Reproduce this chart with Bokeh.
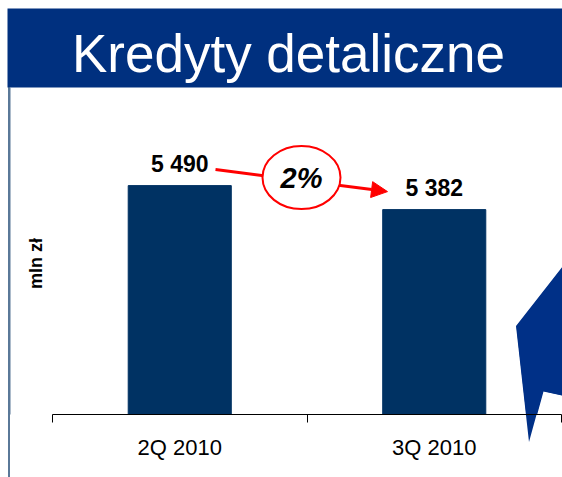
from math import pi
from bokeh.plotting import figure
from bokeh.models import (Range1d, FixedTicker, BoxAnnotation, Label, Arrow,
                          NormalHead, PolyAnnotation)
from bokeh.core.properties import value
from bokeh.embed import file_html
from bokeh.resources import INLINE

# ---- data ----
title_text = "Kredyty detaliczne"
unit_label = "mln zł"
categories = ["2Q 2010", "3Q 2010"]
values = [5490, 5382]

# ---- layout constants ----
W, H = 562, 477
AXIS_H = 63
FRAME_H = H - AXIS_H
PX_X0 = 52          # pixel position of x = 0 (start of axis)
PX_PER_X = 127.25   # pixels per x unit (category = 2 units)
Y_BASE = 4460
Y_PER_PX = 4.5

FONT = "Liberation Sans"
BANNER = "#00307f"
BAR = "#003263"
RED = "#ff0000"
LINE = "#5a7898"
SHAPE = "#003087"

n = len(categories)
x_start = -PX_X0 / PX_PER_X
x_end = x_start + W / PX_PER_X
y_end = Y_BASE + FRAME_H * Y_PER_PX


def dx(px):
    return px / PX_PER_X


def dy(px):
    return px * Y_PER_PX


def fx(px):  # canvas pixel -> data x
    return x_start + px / PX_PER_X


def fy(py):  # canvas pixel (from top) -> data y
    return y_end - py * Y_PER_PX


centers = [2 * i + 1 for i in range(n)]
bounds = [2 * i for i in range(n + 1)]
labels = [f"{v:,}".replace(",", " ") for v in values]
change = (values[1] - values[0]) / values[0]
change_label = f"{abs(round(change * 100))}%"

# decorative slide elements (left rule and blue shape), also shown as page
# background so that they continue below the plot frame
shape_px = [(516, 326), (570, 257), (570, 397), (543, 391), (529, 442)]
pts = " ".join(f"{a},{b}" for a, b in shape_px)
svg_bg = (f"<svg xmlns='http://www.w3.org/2000/svg' width='{W}' height='{H}'>"
          f"<rect x='8' y='87' width='2' height='{H - 87}' fill='{LINE}'/>"
          f"<polygon points='{pts}' fill='{SHAPE}'/></svg>").replace("#", "%23")

p = figure(width=W, height=H, x_range=Range1d(x_start, x_end),
           y_range=Range1d(Y_BASE, y_end), y_axis_location=None,
           output_backend="svg", toolbar_location=None,
           min_border_left=0, min_border_right=0, min_border_top=0,
           min_border_bottom=AXIS_H,
           styles={"background": f'white url("data:image/svg+xml;utf8,{svg_bg}") no-repeat 0 0'})
p.grid.visible = False
p.outline_line_color = None
p.background_fill_color = None
p.border_fill_color = None

# banner + left border line
p.add_layout(BoxAnnotation(left=fx(7), top=fy(8), bottom=fy(87),
                           fill_color=BANNER, fill_alpha=1,
                           line_color=None, level="underlay"))
p.add_layout(BoxAnnotation(left=8, right=10, top=87, bottom=H,
                           left_units="canvas", right_units="canvas",
                           top_units="canvas", bottom_units="canvas",
                           fill_color=LINE, fill_alpha=1,
                           line_color=None, level="underlay"))
p.add_layout(Label(x=fx(288), y=fy(53), text=title_text,
                   text_font=FONT, text_font_size="53px", text_color="white",
                   text_align="center", text_baseline="middle"))

# decorative blue shape at right
p.add_layout(PolyAnnotation(xs=[a for a, b in shape_px],
                            ys=[b for a, b in shape_px],
                            xs_units="canvas", ys_units="canvas",
                            fill_color=SHAPE, fill_alpha=1, line_color=None,
                            level="underlay"))

# bars
p.vbar(x=centers, top=values, bottom=Y_BASE, width=0.81, color=BAR)
p.text(x=centers, y=values, text=labels, text_align="center",
       text_baseline="middle", y_offset=-22, text_font=value(FONT),
       text_font_style="bold", text_font_size="23px", text_color="black")

# change arrow + ellipse
xs0, ys0 = centers[0] + dx(35.75), values[0] + dy(16)
xs1, ys1 = centers[1] - dx(46.75), values[1] + dy(18)
p.add_layout(Arrow(x_start=xs0, y_start=ys0, x_end=xs1, y_end=ys1,
                   line_color=RED, line_width=3, level="underlay",
                   end=NormalHead(size=16, fill_color=RED, line_color=RED)))
xm, ym = (xs0 + xs1) / 2, (ys0 + ys1) / 2 + dy(3)
p.ellipse(x=[xm], y=[ym], width=78, height=63, width_units="screen",
          height_units="screen", fill_color="white", line_color=RED,
          line_width=2)
p.text(x=[xm], y=[ym], text=[change_label], text_align="center",
       text_baseline="middle", text_font=value(FONT),
       text_font_style="bold italic", text_font_size="29px",
       text_color="black")

# unit label
p.add_layout(Label(x=fx(35.5), y=fy(263), text=unit_label, angle=pi / 2,
                   text_font=FONT, text_font_style="bold",
                   text_font_size="18px", text_color="black",
                   text_align="center", text_baseline="middle"))

# x axis
ax = p.xaxis[0]
ax.ticker = FixedTicker(ticks=centers, minor_ticks=bounds)
ax.bounds = (bounds[0], bounds[-1])
ax.major_label_overrides = {c: lab for c, lab in zip(centers, categories)}
ax.major_tick_line_color = None
ax.major_tick_in = 0
ax.major_tick_out = 0
ax.minor_tick_line_color = "black"
ax.minor_tick_in = 0
ax.minor_tick_out = 8
ax.axis_line_color = "black"
ax.major_label_standoff = 12
ax.major_label_text_font = FONT
ax.major_label_text_font_size = "22px"
ax.major_label_text_color = "black"

open("out.html", "w").write(file_html(p, INLINE))
